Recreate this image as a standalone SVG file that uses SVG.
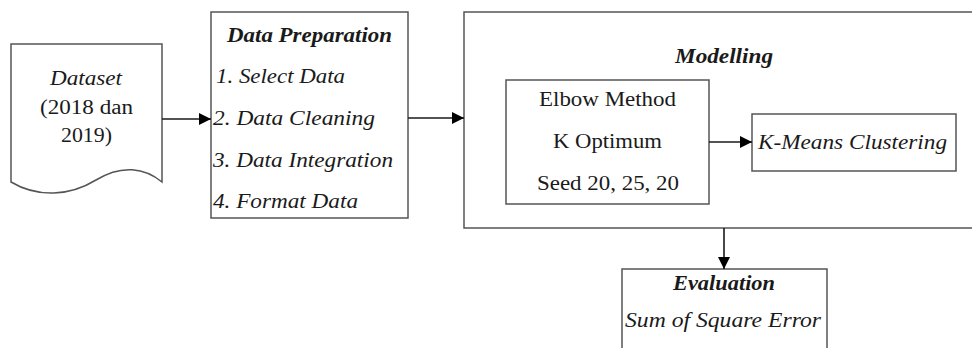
<svg xmlns="http://www.w3.org/2000/svg" width="972" height="348" viewBox="0 0 972 348" font-family="'Liberation Serif', 'DejaVu Serif', serif">
  <style>
    .box { fill: #ffffff; stroke: #555555; stroke-width: 1.5; }
    .link { stroke: #1a1a1a; stroke-width: 1.6; fill: none; marker-end: url(#arrow); }
    text { font-family: 'Liberation Serif', 'DejaVu Serif', serif; font-size: 20px; fill: #1a1a1a; }
    .it { font-style: italic; }
    .bi { font-style: italic; font-weight: bold; }
  </style>
  <defs>
    <marker id="arrow" viewBox="0 0 12 12" refX="12" refY="6" markerWidth="12" markerHeight="12" markerUnits="userSpaceOnUse" orient="auto">
      <path d="M0,0 L12,6 L0,12 Z" fill="#000000"/>
    </marker>
  </defs>
  <rect width="972" height="348" fill="#ffffff"/>

  <!-- document-shaped input -->
  <g id="dataset">
    <path class="box" d="M11,44 H162 V182 C145,168 122,164 96,180 C70,196 38,198 11,182 Z"/>
    <text class="it" x="50" y="85" textLength="72" lengthAdjust="spacingAndGlyphs">Dataset</text>
    <text x="40" y="114" textLength="93" lengthAdjust="spacingAndGlyphs">(2018 dan</text>
    <text x="61" y="142" textLength="51" lengthAdjust="spacingAndGlyphs">2019)</text>
  </g>

  <g id="data-preparation">
    <rect class="box" x="211" y="12" width="197" height="206"/>
    <text class="bi" x="227" y="42" textLength="165" lengthAdjust="spacingAndGlyphs">Data Preparation</text>
    <text class="it" x="216" y="83" textLength="129" lengthAdjust="spacingAndGlyphs">1. Select Data</text>
    <text class="it" x="213" y="125" textLength="162" lengthAdjust="spacingAndGlyphs">2. Data Cleaning</text>
    <text class="it" x="213" y="167" textLength="180" lengthAdjust="spacingAndGlyphs">3. Data Integration</text>
    <text class="it" x="213" y="208" textLength="145" lengthAdjust="spacingAndGlyphs">4. Format Data</text>
  </g>

  <!-- container runs past the right edge -->
  <g id="modelling">
    <rect class="box" x="464" y="12" width="520" height="216"/>
    <text class="bi" x="675" y="63" textLength="98" lengthAdjust="spacingAndGlyphs">Modelling</text>
  </g>

  <g id="elbow-method">
    <rect class="box" x="506" y="80" width="203" height="124"/>
    <text x="539" y="106" textLength="137" lengthAdjust="spacingAndGlyphs">Elbow Method</text>
    <text x="553" y="148" textLength="109" lengthAdjust="spacingAndGlyphs">K Optimum</text>
    <text x="537" y="190" textLength="142" lengthAdjust="spacingAndGlyphs">Seed 20, 25, 20</text>
  </g>

  <g id="k-means">
    <rect class="box" x="752" y="114" width="204" height="57"/>
    <text class="it" x="758" y="149" textLength="189" lengthAdjust="spacingAndGlyphs">K-Means Clustering</text>
  </g>

  <!-- box continues below the bottom edge -->
  <g id="evaluation">
    <rect class="box" x="622" y="269" width="205" height="100"/>
    <text class="bi" x="673" y="290" textLength="102" lengthAdjust="spacingAndGlyphs">Evaluation</text>
    <text class="it" x="625" y="327" textLength="196" lengthAdjust="spacingAndGlyphs">Sum of Square Error</text>
  </g>

  <g id="connectors">
    <line class="link" x1="162" y1="119" x2="211" y2="119"/>
    <line class="link" x1="408" y1="118" x2="464" y2="118"/>
    <line class="link" x1="709" y1="142" x2="752" y2="142"/>
    <line class="link" x1="724" y1="228" x2="724" y2="269"/>
  </g>
</svg>
